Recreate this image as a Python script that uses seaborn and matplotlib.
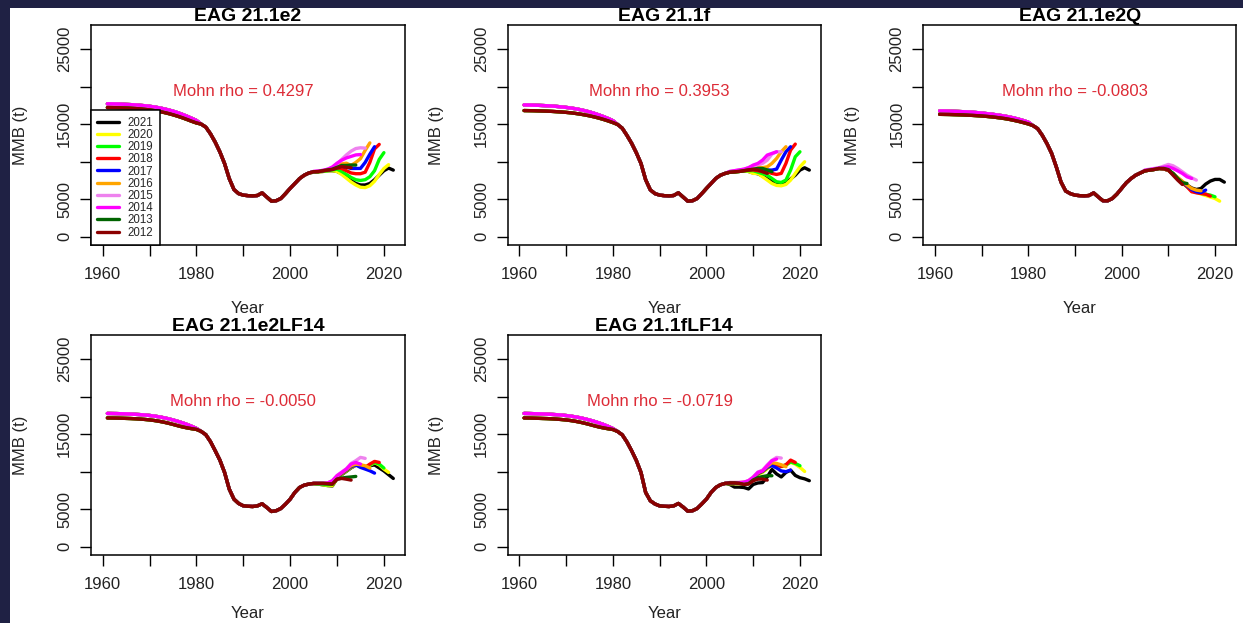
import matplotlib
matplotlib.use("Agg")
import matplotlib.pyplot as plt
import pandas as pd
import seaborn as sns
from matplotlib.patches import Rectangle

# Retrospective peels (terminal assessment year) and their line colours
peel_years = [2021, 2020, 2019, 2018, 2017, 2016, 2015, 2014, 2013, 2012]
peel_colors = ["black", "yellow", "#00ff00", "red", "blue", "orange",
               "violet", "magenta", "darkgreen", "darkred"]
# peels whose early-period estimates sit on the upper edge of the band
high_start_peels = [2014, 2015, 2016, 2017, 2018, 2019]

first_year = 1961   # early block 1961-1980, mid block 1981-2004
tail_start = 2005   # each peel's own estimates run 2005 .. peel+1

year_ticks = [1960, 1970, 1980, 1990, 2000, 2010, 2020]
year_tick_labels = ["1960", "", "1980", "", "2000", "", "2020"]
mmb_ticks = [0, 5000, 10000, 15000, 20000, 25000]
mmb_tick_labels = ["0", "5000", "", "15000", "", "25000"]

# ---------------- model 21.1e2 ----------------
e2_early_hi = [17700, 17690, 17670, 17650, 17620, 17590, 17550, 17500, 17440, 17370,
               17280, 17170, 17040, 16890, 16720, 16520, 16290, 16040, 15770, 15480]
e2_early_lo = [17200, 17190, 17180, 17160, 17140, 17110, 17070, 17020, 16960, 16890,
               16800, 16690, 16560, 16410, 16240, 16050, 15840, 15610, 15370, 15150]
e2_mid = [15000, 14600, 13700, 12600, 11300, 9750, 7750, 6300, 5750, 5550, 5480, 5450,
          5500, 5850, 5300, 4750, 4800, 5100, 5750, 6450, 7100, 7750, 8200, 8500]
e2_tails = {
    2021: [8600, 8650, 8700, 8800, 8800, 8700, 8400, 8000, 7500, 7100, 6900, 6900, 7100, 7600, 8200, 8800, 9150, 8880],
    2020: [8600, 8650, 8700, 8800, 8800, 8700, 8300, 7800, 7300, 6900, 6600, 6550, 6800, 7400, 8300, 9100, 9600],
    2019: [8660, 8680, 8750, 8800, 8900, 9000, 8700, 8300, 7900, 7600, 7500, 7600, 8000, 8800, 10300, 11200],
    2018: [8660, 8700, 8800, 8900, 9000, 9200, 9100, 8800, 8500, 8400, 8400, 8600, 9900, 11700, 12300],
    2017: [8660, 8700, 8800, 8900, 9000, 9300, 9400, 9300, 9100, 9100, 9100, 9900, 11000, 11990],
    2016: [8660, 8700, 8800, 8900, 9100, 9400, 9700, 9800, 9500, 9900, 10400, 11500, 12500],
    2015: [8700, 8750, 8850, 9000, 9200, 9700, 10300, 10900, 11400, 11750, 11850, 11800],
    2014: [8700, 8750, 8850, 9000, 9300, 9800, 10200, 10500, 10700, 10900, 10950],
    2013: [8660, 8680, 8790, 8900, 9000, 9250, 9500, 9500, 9550, 9550],
    2012: [8660, 8680, 8790, 8880, 8950, 9150, 9350, 9250, 9200],
}

# ---------------- model 21.1f ----------------
f_early_hi = [17550, 17540, 17520, 17500, 17470, 17440, 17400, 17350, 17290, 17220,
              17140, 17040, 16920, 16780, 16620, 16430, 16220, 15990, 15740, 15450]
f_early_lo = [16800, 16790, 16780, 16760, 16740, 16720, 16690, 16650, 16610, 16560,
              16500, 16420, 16330, 16220, 16100, 15960, 15800, 15620, 15420, 15200]
f_mid = [14950, 14450, 13500, 12450, 11200, 9770, 7600, 6250, 5750, 5550, 5480, 5450,
         5500, 5860, 5300, 4750, 4800, 5100, 5750, 6440, 7100, 7770, 8200, 8440]
f_tails = {
    2021: [8600, 8650, 8700, 8800, 8700, 8500, 8400, 8100, 7700, 7400, 7200, 7050, 7150, 7700, 8210, 8880, 9190, 8880],
    2020: [8600, 8650, 8700, 8800, 8700, 8440, 8440, 7990, 7550, 7100, 6840, 6790, 6970, 7550, 8440, 9320, 9990],
    2019: [8600, 8650, 8700, 8800, 8800, 8800, 8600, 8400, 8210, 7770, 7330, 7240, 7550, 8880, 10660, 11320],
    2018: [8600, 8650, 8750, 8800, 8900, 8900, 8800, 8700, 8660, 8440, 8300, 8440, 9770, 11540, 12340],
    2017: [8650, 8700, 8800, 8900, 9000, 9100, 9000, 8880, 8900, 8880, 9010, 10210, 11320, 11990],
    2016: [8650, 8700, 8800, 8900, 9000, 9200, 9300, 9200, 9320, 9770, 10430, 11320, 11990],
    2015: [8700, 8800, 8900, 9000, 9200, 9400, 9600, 9770, 10210, 11010, 11320, 11320],
    2014: [8700, 8800, 8900, 9000, 9200, 9550, 9770, 10210, 10880, 11100, 11320],
    2013: [8600, 8650, 8700, 8800, 8900, 9000, 9100, 9100, 8900, 8660],
    2012: [8600, 8650, 8700, 8800, 8900, 8970, 8900, 8660, 8440],
}

# ---------------- model 21.1e2Q ----------------
e2q_early_hi = [16750, 16740, 16720, 16700, 16680, 16650, 16620, 16580, 16530, 16470,
                16400, 16330, 16250, 16160, 16060, 15940, 15800, 15640, 15460, 15250]
e2q_early_lo = [16300, 16290, 16280, 16260, 16240, 16220, 16190, 16160, 16120, 16080,
                16030, 15970, 15900, 15820, 15730, 15620, 15490, 15350, 15190, 15020]
e2q_mid = [14800, 14400, 13500, 12400, 11100, 9300, 7300, 6100, 5750, 5550, 5480, 5450,
           5500, 5850, 5300, 4800, 4800, 5100, 5700, 6450, 7200, 7750, 8200, 8500]
e2q_tails = {
    2021: [8790, 8880, 8970, 9100, 9050, 8850, 8400, 7800, 7300, 6900, 6500, 6300, 6440, 7020, 7420, 7640, 7640, 7280],
    2020: [8790, 8880, 8970, 9100, 9050, 8850, 8400, 7800, 7200, 6700, 6200, 5900, 5700, 5500, 5300, 5100, 4750],
    2019: [8790, 8880, 8970, 9100, 9050, 8850, 8400, 7800, 7200, 6700, 6200, 5950, 5800, 5680, 5550, 5330],
    2018: [8790, 8880, 8970, 9100, 9050, 8850, 8400, 7800, 7200, 6660, 6000, 5860, 5770, 5680, 5420],
    2017: [8790, 8880, 8970, 9100, 9050, 8850, 8400, 7850, 7300, 6800, 6300, 6000, 5900, 6220],
    2016: [8790, 8880, 8970, 9100, 9050, 8850, 8400, 7900, 7400, 6880, 6440, 6220, 6130],
    2015: [8900, 9000, 9100, 9200, 9410, 9630, 9460, 9100, 8660, 8210, 7860, 7550],
    2014: [8850, 8950, 9050, 9150, 9250, 9320, 9100, 8790, 8440, 7990, 7770],
    2013: [8790, 8880, 8970, 9100, 9100, 8950, 8440, 7770, 7190, 7100],
    2012: [8790, 8880, 8970, 9100, 9060, 8880, 8210, 7550, 6970],
}

# ---------------- model 21.1e2LF14 ----------------
e2lf_early_hi = [17750, 17740, 17730, 17710, 17690, 17660, 17630, 17590, 17540, 17480,
                 17400, 17300, 17180, 17040, 16880, 16700, 16500, 16280, 16030, 15750]
e2lf_early_lo = [17150, 17140, 17130, 17110, 17090, 17070, 17040, 17000, 16950, 16890,
                 16810, 16710, 16590, 16450, 16290, 16120, 15960, 15830, 15720, 15620]
e2lf_mid = [15360, 14920, 13990, 12790, 11540, 9900, 7680, 6350, 5770, 5460, 5400, 5370,
            5450, 5730, 5240, 4710, 4800, 5100, 5680, 6350, 7240, 7900, 8210, 8350]
e2lf_tails = {
    2021: [8400, 8350, 8250, 8150, 8100, 9100, 9600, 10050, 10500, 10850, 10800, 10500, 10800, 10900, 10500, 10100, 9600, 9100],
    2020: [8400, 8350, 8250, 8150, 8150, 9100, 9650, 10100, 10550, 10900, 10850, 10550, 10850, 11200, 10900, 10350, 9900],
    2019: [8400, 8350, 8300, 8250, 8300, 9200, 9700, 10150, 10600, 10950, 10900, 10570, 10900, 11230, 11010, 10480],
    2018: [8440, 8440, 8440, 8450, 8650, 9300, 9750, 10200, 10650, 10950, 10920, 10570, 11010, 11370, 11230],
    2017: [8440, 8440, 8440, 8450, 8700, 9350, 9800, 10250, 10700, 10900, 10570, 10350, 10120, 9810],
    2016: [8440, 8440, 8440, 8500, 8750, 9400, 9850, 10300, 10800, 11010, 10920, 10790, 10480],
    2015: [8440, 8440, 8440, 8500, 8800, 9500, 9950, 10400, 11100, 11460, 11900, 11770],
    2014: [8440, 8440, 8440, 8500, 8790, 9460, 9900, 10350, 11010, 11230, 11010],
    2013: [8440, 8440, 8440, 8400, 8350, 9000, 9150, 9240, 9300, 9370],
    2012: [8440, 8440, 8440, 8400, 8350, 9000, 9100, 9000, 8880],
}

# ---------------- model 21.1fLF14 ----------------
flf_early_hi = [17750, 17740, 17720, 17700, 17680, 17650, 17620, 17580, 17530, 17470,
                17390, 17290, 17170, 17030, 16870, 16690, 16490, 16270, 16020, 15740]
flf_early_lo = [17150, 17140, 17120, 17100, 17080, 17060, 17030, 16990, 16940, 16880,
                16800, 16700, 16580, 16440, 16280, 16110, 15950, 15820, 15710, 15610]
flf_mid = [15350, 14900, 13950, 12790, 11500, 9900, 7240, 6130, 5700, 5450, 5400, 5370,
           5450, 5770, 5300, 4750, 4800, 5100, 5700, 6350, 7240, 7900, 8260, 8440]
flf_tails = {
    2021: [8300, 7950, 7950, 7900, 7700, 8300, 8500, 8550, 9300, 10300, 9700, 9300, 9900, 10200, 9500, 9200, 9050, 8800],
    2020: [8400, 8400, 8400, 8400, 8500, 9000, 9600, 9900, 10400, 10800, 10900, 10650, 10850, 11250, 11000, 10570, 10030],
    2019: [8450, 8450, 8450, 8500, 8600, 9100, 9700, 10000, 10500, 10900, 10950, 10700, 10900, 11300, 11100, 10790],
    2018: [8500, 8500, 8500, 8550, 8650, 9150, 9750, 10050, 10550, 10900, 10950, 10700, 10920, 11540, 11230],
    2017: [8500, 8500, 8500, 8550, 8700, 9200, 9800, 10100, 10600, 10800, 10500, 10100, 10000, 10210],
    2016: [8550, 8550, 8550, 8600, 8750, 9250, 9850, 10150, 10700, 11200, 11100, 10920, 10660],
    2015: [8550, 8550, 8550, 8600, 8800, 9300, 9950, 10200, 10900, 11500, 11900, 11810],
    2014: [8550, 8550, 8550, 8600, 8800, 9240, 9900, 10120, 10790, 11460, 11680],
    2013: [8500, 8500, 8450, 8300, 8400, 8900, 9200, 9350, 9460, 9460],
    2012: [8500, 8500, 8450, 8300, 8350, 8790, 9010, 9010, 8880],
}

model_titles = ["EAG 21.1e2", "EAG 21.1f", "EAG 21.1e2Q", "EAG 21.1e2LF14", "EAG 21.1fLF14"]
mohn_rho = ["0.4297", "0.3953", "-0.0803", "-0.0050", "-0.0719"]
model_blocks = [
    (e2_early_hi, e2_early_lo, e2_mid, e2_tails),
    (f_early_hi, f_early_lo, f_mid, f_tails),
    (e2q_early_hi, e2q_early_lo, e2q_mid, e2q_tails),
    (e2lf_early_hi, e2lf_early_lo, e2lf_mid, e2lf_tails),
    (flf_early_hi, flf_early_lo, flf_mid, flf_tails),
]


def peel_frame(early_hi, early_lo, mid, tails):
    rows = []
    for peel in peel_years:
        early = early_hi if peel in high_start_peels else early_lo
        values = list(early) + list(mid) + list(tails[peel])
        for i, v in enumerate(values):
            rows.append({"Year": first_year + i, "MMB": v, "peel": str(peel)})
    return pd.DataFrame(rows)


sns.set_theme(style="ticks")
plt.rcParams["font.family"] = ["Liberation Sans", "DejaVu Sans"]

W, H = 1243, 623
navy = "#1f2144"
fig = plt.figure(figsize=(W / 100, H / 100), dpi=100)
fig.patch.set_facecolor(navy)
fig.add_artist(Rectangle((10 / W, 0), 1, 1 - 8 / H, transform=fig.transFigure,
                         facecolor="white", edgecolor="none", zorder=-1))

# axes boxes in pixels: left, top, right, bottom
boxes = [(91, 25, 405, 245), (507.7, 25, 821, 245), (923.3, 25, 1236, 245),
         (91, 335, 405, 555), (507.7, 335, 821, 555)]
# distance (px) from the axes bottom to the centre of the "Year" label
xlabel_offsets = [63, 63, 63, 58, 58]

palette = {str(p): c for p, c in zip(peel_years, peel_colors)}
order = [str(p) for p in peel_years]

for k, (title, rho, block, box) in enumerate(zip(model_titles, mohn_rho, model_blocks, boxes)):
    l, t, r, b = box
    ax = fig.add_axes([l / W, 1 - b / H, (r - l) / W, (b - t) / H])
    ax.set_facecolor("white")
    df = peel_frame(*block)
    sns.lineplot(data=df, x="Year", y="MMB", hue="peel", hue_order=order,
                 palette=palette, estimator=None, linewidth=2.4,
                 legend=(k == 0), ax=ax)
    ax.set_xlim(1957.5, 2024.5)
    ax.set_ylim(-1084, 28184)
    ax.set_xticks(year_ticks)
    ax.set_xticklabels(year_tick_labels)
    ax.set_yticks(mmb_ticks)
    ax.set_yticklabels(mmb_tick_labels)
    ax.tick_params(axis="both", direction="out", length=8, width=1, color="black",
                   labelsize=12, labelcolor="#222222", pad=8)
    ax.tick_params(axis="y", labelrotation=90, pad=5.5)
    for lab in ax.get_yticklabels():
        lab.set_va("center")
    for s in ax.spines.values():
        s.set_visible(True)
        s.set_color("black")
        s.set_linewidth(1.1)
    ax.set_title(title, fontsize=14, fontweight="bold", pad=1, color="black")
    ax.set_xlabel("Year", fontsize=12, color="#222222")
    ax.set_ylabel("MMB (t)", fontsize=12, color="#222222")
    ax.xaxis.set_label_coords(0.5, -xlabel_offsets[k] / (b - t))
    ax.xaxis.label.set_va("center")
    ax.yaxis.set_label_coords(-71 / (r - l), 0.5)
    ax.yaxis.label.set_va("center")
    ax.text(1990, 19400, f"Mohn rho = {rho}", color="#dd2b36", fontsize=12,
            ha="center", va="center")
    if k == 0:
        handles, labels = ax.get_legend_handles_labels()
        leg = ax.legend(handles, labels, loc="lower left", bbox_to_anchor=(0, 0),
                        borderaxespad=0, fontsize=8.3, frameon=True, fancybox=False,
                        edgecolor="black", framealpha=1, handlelength=1.9,
                        handletextpad=0.75, labelspacing=0.02, borderpad=0.55)
        leg.get_frame().set_linewidth(1.1)
        for h in leg.get_lines():
            h.set_linewidth(2.4)

fig.savefig("out.png", dpi=100, facecolor=fig.get_facecolor())
